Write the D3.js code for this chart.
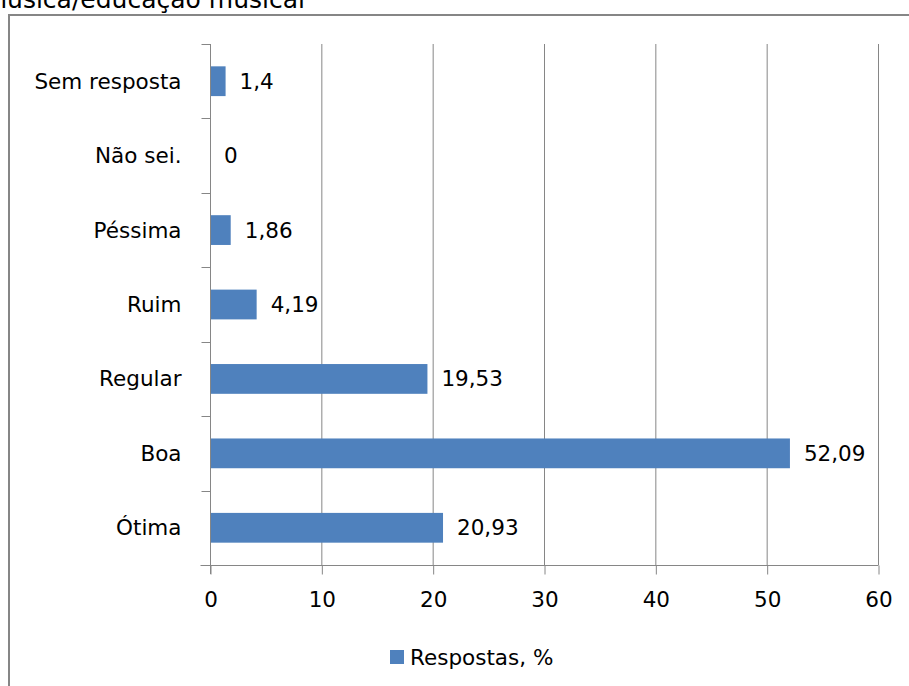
<!DOCTYPE html>
<html><head><meta charset="utf-8">
<script src="https://cdn.jsdelivr.net/npm/d3@7"></script>
<style>body{margin:0;background:#fff;}svg{display:block;}</style>
</head><body>
<svg id="c" width="909" height="686"></svg>
<script>
const categories = ["Sem resposta","Não sei.","Péssima","Ruim","Regular","Boa","Ótima"];
const values = [1.4, 0, 1.86, 4.19, 19.53, 52.09, 20.93];
const valueLabels = ["1,4","0","1,86","4,19","19,53","52,09","20,93"];
const xTicks = [0,10,20,30,40,50,60];
const seriesName = "Respostas, %";
const titleText = "música/educação musical";

(function(){
const svg = d3.select("#c");
const font = "DejaVu Sans, Verdana, sans-serif";
const fs = 21.5;
const pL = 210, pR = 878, pT = 44, pB = 565;
const x = d3.scaleLinear().domain([0,60]).range([pL,pR]);
const y = d3.scaleBand().domain(categories).range([pT,pB]).paddingInner(0.6).paddingOuter(0.3);
const yb = d3.scaleBand().domain(categories).range([pT,pB]);

svg.append("text").attr("x",305).attr("y",8).attr("text-anchor","end")
  .attr("font-family",font).attr("font-size",25).attr("fill","#000").text(titleText);

svg.append("path").attr("d","M9,686 V15 H909").attr("fill","none").attr("stroke","#868686").attr("stroke-width",2);

svg.append("g").selectAll("line").data(xTicks.slice(1)).join("line")
  .attr("x1",d=>x(d)+0.5).attr("x2",d=>x(d)+0.5).attr("y1",pT).attr("y2",pB)
  .attr("stroke","#868686").attr("stroke-width",1);

const xa = svg.append("g").attr("transform",`translate(0.5,${pB+0.5})`)
  .call(d3.axisBottom(x).tickValues(xTicks).tickSize(9).tickPadding(17).tickFormat(d3.format("d")));
xa.select(".domain").attr("stroke","#868686").attr("d",`M${pL-10},0H${pR}`);
xa.selectAll(".tick line").attr("stroke","#868686");
xa.selectAll("text").attr("font-family",font).attr("font-size",fs).attr("fill","#000");

const ya = svg.append("g").attr("transform",`translate(${pL+0.5},0)`);
ya.append("line").attr("x1",0).attr("x2",0).attr("y1",pT).attr("y2",pB+9).attr("stroke","#868686");
ya.selectAll("line.t").data(categories).join("line").attr("class","t")
  .attr("x1",-9).attr("x2",0).attr("y1",d=>Math.round(yb(d))+0.5).attr("y2",d=>Math.round(yb(d))+0.5).attr("stroke","#868686");
ya.selectAll("text").data(categories).join("text")
  .attr("x",-29).attr("y",d=>yb(d)+yb.bandwidth()/2).attr("dy","0.35em").attr("text-anchor","end")
  .attr("font-family",font).attr("font-size",fs).attr("fill","#000").text(d=>d);

svg.append("g").selectAll("rect").data(categories).join("rect")
  .attr("x",x(0)+1).attr("y",d=>y(d)).attr("height",y.bandwidth())
  .attr("width",(d,i)=>Math.max(0,x(values[i])-x(0)-1)).attr("fill","#4F81BD");

svg.append("g").selectAll("text").data(categories).join("text")
  .attr("x",(d,i)=>x(values[i])+14).attr("y",d=>yb(d)+yb.bandwidth()/2).attr("dy","0.35em")
  .attr("font-family",font).attr("font-size",fs).attr("fill","#000").text((d,i)=>valueLabels[i]);

svg.append("rect").attr("x",390).attr("y",650).attr("width",14).attr("height",14).attr("fill","#4F81BD");
svg.append("text").attr("x",410).attr("y",665).attr("font-family",font).attr("font-size",fs).attr("fill","#000").text(seriesName);
})();
</script>
</body></html>
